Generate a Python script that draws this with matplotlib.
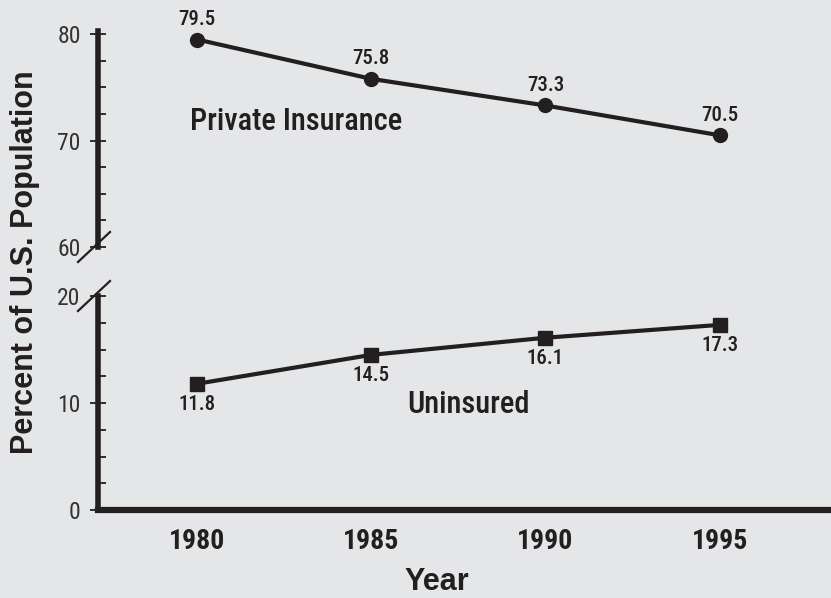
"""Insurance coverage chart with a broken y axis"""

import matplotlib.pyplot as plt
from matplotlib import font_manager

years = [1980, 1985, 1990, 1995]
private_insurance = [79.5, 75.8, 73.3, 70.5]
uninsured = [11.8, 14.5, 16.1, 17.3]
year_ticks = [1980, 1985, 1990, 1995]
upper_ticks = [60, 70, 80]
lower_ticks = [0, 10, 20]

BG = "#e5e6e8"
INK = "#231f20"

names = {f.name for f in font_manager.fontManager.ttflist}
NARROW = "Roboto"
for cand in ("Roboto Condensed", "Liberation Sans Narrow", "Roboto"):
    if cand in names:
        NARROW = cand
        break
WIDE = "Liberation Sans"
SCALE = 1.0 if NARROW != "Roboto" else 0.88

fig = plt.figure(figsize=(8.31, 5.98), dpi=100, facecolor=BG)

# pixel geometry of the reference
left, right = 98 / 831, 1.0
ax_top = fig.add_axes([left, 1 - 247 / 598, right - left, (247 - 31) / 598])
ax_bot = fig.add_axes([left, 1 - 510 / 598, right - left, (510 - 296) / 598])

for ax in (ax_top, ax_bot):
    ax.set_facecolor(BG)
    ax.set_xlim(1977.15, 1998.2)
    for s in ("top", "right"):
        ax.spines[s].set_visible(False)
    ax.spines["left"].set_linewidth(4)
    ax.spines["left"].set_color(INK)
    ax.tick_params(axis="y", which="major", direction="inout", length=11,
                   width=1.3, color=INK, labelsize=17 * SCALE,
                   labelcolor="#333333", pad=7)
    ax.tick_params(axis="y", which="minor", direction="in", length=5.5,
                   width=1.3, color=INK)

ax_top.spines["bottom"].set_visible(False)
ax_top.set_ylim(60, 80.3)
ax_top.set_yticks(upper_ticks)
ax_top.set_yticks([62.5, 65, 67.5, 72.5, 75, 77.5], minor=True)
ax_top.set_xticks([])

ax_bot.set_ylim(0, 20)
ax_bot.set_yticks(lower_ticks)
ax_bot.set_yticks([2.5, 5, 7.5, 12.5, 15, 17.5], minor=True)
ax_bot.spines["bottom"].set_linewidth(4.5)
ax_bot.spines["bottom"].set_color(INK)
ax_bot.set_xticks(year_ticks)
ax_bot.tick_params(axis="x", length=0, pad=13, labelsize=20 * SCALE,
                   labelcolor=INK)
for lab in ax_bot.get_xticklabels():
    lab.set_family(NARROW)
    lab.set_fontweight("bold")
for ax in (ax_top, ax_bot):
    for lab in ax.get_yticklabels():
        lab.set_family(NARROW)

ax_top.plot(years, private_insurance, color=INK, lw=3, marker="o",
            markersize=10, clip_on=False, zorder=3)
ax_bot.plot(years, uninsured, color=INK, lw=3, marker="s",
            markersize=10, clip_on=False, zorder=3)

for x, y in zip(years, private_insurance):
    ax_top.annotate(f"{y}", (x, y), xytext=(0, 7.5), textcoords="offset points",
                    ha="center", va="bottom", fontsize=15 * SCALE,
                    family=NARROW, fontweight="medium", color=INK)
for x, y in zip(years, uninsured):
    ax_bot.annotate(f"{y}", (x, y), xytext=(0, -8), textcoords="offset points",
                    ha="center", va="top", fontsize=15 * SCALE,
                    family=NARROW, fontweight="medium", color=INK)

ax_top.text(1982.85, 71.8, "Private Insurance", ha="center", va="center",
            fontsize=22 * SCALE, family=NARROW, fontweight="medium", color=INK)
ax_bot.text(1987.8, 9.9, "Uninsured", ha="center", va="center",
            fontsize=22 * SCALE, family=NARROW, fontweight="medium", color=INK)

# break marks on the y axis (pixel offsets converted to axes fractions)
w_px = 831 - 98
for ax, h_px in ((ax_top, 247 - 31), (ax_bot, 510 - 296)):
    y0 = 0.0 if ax is ax_top else 1.0
    ax.plot([-20 / w_px, 12 / w_px], [y0 - 15 / h_px, y0 + 15 / h_px],
            transform=ax.transAxes, color=INK, lw=1.6, clip_on=False)

fig.text(25 / 831, 1 - 262 / 598, "Percent of U.S. Population", rotation=90,
         ha="center", va="center", fontsize=22, fontweight="bold",
         family=WIDE, color=INK)
fig.text(437 / 831, 1 - 590 / 598, "Year", ha="center", va="baseline",
         fontsize=22, fontweight="bold", family=WIDE, color=INK)

fig.savefig("out.png", dpi=100, facecolor=BG)
